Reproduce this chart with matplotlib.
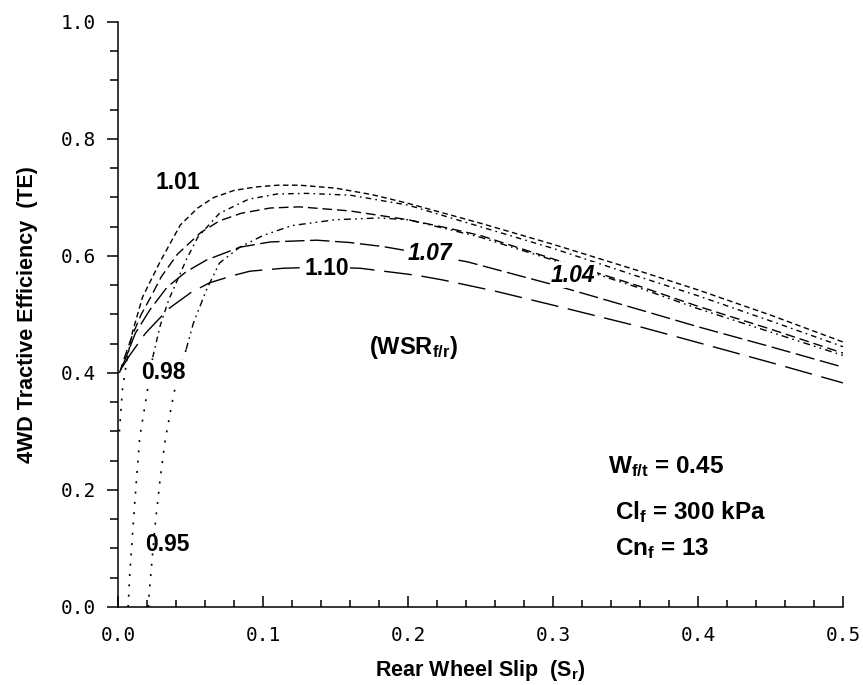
import numpy as np
import matplotlib
matplotlib.use('Agg')
import matplotlib.pyplot as plt
from matplotlib.ticker import MultipleLocator, FormatStrFormatter

plt.rcParams['mathtext.fontset'] = 'custom'
plt.rcParams['mathtext.rm'] = 'Liberation Sans'
plt.rcParams['mathtext.bf'] = 'Liberation Sans:bold'

# Кривые КПД по проскальзыванию задних колёс для разных WSR
slip_095 = [0.021, 0.0216, 0.0255, 0.029, 0.0324, 0.037, 0.0405, 0.047, 0.052, 0.061, 0.070, 0.084,
            0.10, 0.12, 0.15, 0.18, 0.20, 0.227, 0.25, 0.30, 0.36, 0.40, 0.45, 0.50]
te_095 = [0.0, 0.026, 0.137, 0.217, 0.283, 0.345, 0.388, 0.44, 0.485, 0.542, 0.588, 0.615,
          0.635, 0.652, 0.662, 0.665, 0.662, 0.646, 0.632, 0.593, 0.545, 0.51, 0.47, 0.43]

slip_098 = [0.007, 0.0083, 0.0117, 0.015, 0.0198, 0.024, 0.029, 0.035, 0.047, 0.055, 0.07, 0.09,
            0.11, 0.13, 0.16, 0.20, 0.25, 0.30, 0.36, 0.40, 0.45, 0.50]
te_098 = [0.0, 0.063, 0.183, 0.29, 0.362, 0.427, 0.48, 0.525, 0.593, 0.632, 0.673, 0.697,
          0.706, 0.707, 0.704, 0.687, 0.650, 0.613, 0.564, 0.532, 0.489, 0.445]

slip_101 = [0.001, 0.003, 0.006, 0.010, 0.017, 0.029, 0.043, 0.055, 0.066, 0.08, 0.095, 0.11,
            0.125, 0.15, 0.175, 0.20, 0.25, 0.30, 0.36, 0.40, 0.45, 0.50]
te_101 = [0.30, 0.37, 0.42, 0.47, 0.53, 0.59, 0.653, 0.682, 0.70, 0.712, 0.718, 0.721,
          0.721, 0.716, 0.705, 0.69, 0.656, 0.62, 0.574, 0.542, 0.499, 0.453]

slip_104 = [0.001, 0.005, 0.010, 0.016, 0.022, 0.030, 0.041, 0.057, 0.070, 0.085, 0.105, 0.125,
            0.16, 0.20, 0.227, 0.25, 0.30, 0.36, 0.40, 0.45, 0.50]
te_104 = [0.40, 0.43, 0.465, 0.50, 0.527, 0.565, 0.603, 0.64, 0.66, 0.673, 0.682, 0.684,
          0.677, 0.662, 0.648, 0.635, 0.595, 0.548, 0.514, 0.475, 0.434]

slip_107 = [0.002, 0.006, 0.012, 0.022, 0.034, 0.047, 0.061, 0.084, 0.105, 0.137, 0.16, 0.183,
            0.197, 0.241, 0.30, 0.36, 0.40, 0.45, 0.50]
te_107 = [0.405, 0.43, 0.468, 0.508, 0.547, 0.573, 0.593, 0.615, 0.624, 0.627, 0.623, 0.616,
          0.61, 0.59, 0.551, 0.508, 0.479, 0.445, 0.41]

slip_110 = [0.003, 0.008, 0.019, 0.035, 0.05, 0.063, 0.08, 0.091, 0.114, 0.14, 0.167, 0.206,
            0.224, 0.26, 0.30, 0.36, 0.40, 0.45, 0.50]
te_110 = [0.41, 0.43, 0.468, 0.51, 0.537, 0.554, 0.567, 0.574, 0.579, 0.581, 0.579, 0.567,
          0.559, 0.54, 0.516, 0.479, 0.452, 0.418, 0.383]

fig = plt.figure(figsize=(8.63, 6.85), dpi=100)
ax = fig.add_axes([0.1367, 0.1139, 0.8401, 0.854])

lw = 1.0
dots = (0, (1.2, 5))

# нижние крутые участки - точками
def split_plot(x, y, dash):
    x = np.array(x)
    y = np.array(y)
    k = np.argmax(y >= 0.4)
    ax.plot(x[:k + 1], y[:k + 1], color='k', lw=1.2, linestyle=dots)
    ax.plot(x[k:], y[k:], color='k', lw=lw, linestyle=dash)

split_plot(slip_095, te_095, (0, (5, 3, 1.2, 3, 1.2, 3)))
split_plot(slip_098, te_098, (0, (4, 3, 1.2, 3)))
split_plot(slip_101, te_101, (0, (4, 2.5)))
ax.plot(slip_104, te_104, color='k', lw=lw, linestyle=(0, (7, 3.5)))
ax.plot(slip_107, te_107, color='k', lw=lw, linestyle=(0, (14, 4)))
ax.plot(slip_110, te_110, color='k', lw=lw, linestyle=(0, (20, 7)))

ax.set_xlim(0, 0.5)
ax.set_ylim(0, 1.0)

for s in ['top', 'right']:
    ax.spines[s].set_visible(False)
for s in ['left', 'bottom']:
    ax.spines[s].set_linewidth(1.1)

ax.xaxis.set_major_locator(MultipleLocator(0.1))
ax.xaxis.set_minor_locator(MultipleLocator(0.02))
ax.yaxis.set_major_locator(MultipleLocator(0.2))
ax.yaxis.set_minor_locator(MultipleLocator(0.05))
ax.xaxis.set_major_formatter(FormatStrFormatter('%.1f'))
ax.yaxis.set_major_formatter(FormatStrFormatter('%.1f'))

ax.tick_params(axis='x', which='major', direction='in', length=8, width=1.1, pad=14)
ax.tick_params(axis='x', which='minor', direction='in', length=5, width=1.1)
ax.tick_params(axis='y', which='major', direction='out', length=8, width=1.1, pad=8)
ax.tick_params(axis='y', which='minor', direction='out', length=6, width=1.1)
for lab in ax.get_xticklabels() + ax.get_yticklabels():
    lab.set_fontfamily('DejaVu Sans Mono')
    lab.set_fontsize(14)

ax.set_xlabel(r'Rear Wheel Slip  ($\mathbf{S_r}$)', fontfamily='Liberation Sans',
              fontweight='bold', fontsize=15.5, labelpad=9)
ax.set_ylabel('4WD Tractive Efficiency  (TE)', fontfamily='Liberation Sans',
              fontweight='bold', fontsize=15.5, labelpad=16)

bb = dict(facecolor='white', edgecolor='none', pad=1.0)
tk = dict(fontfamily='Liberation Sans', fontweight='bold', fontsize=16.5,
          ha='center', va='center')
ax.text(0.041, 0.725, '1.01', **tk)
ax.text(0.031, 0.40, '0.98', bbox=bb, **tk)
ax.text(0.034, 0.106, '0.95', **tk)
ax.text(0.144, 0.579, '1.10', bbox=bb, **tk)
ax.text(0.215, 0.605, '1.07', style='italic', bbox=bb, **tk)
ax.text(0.314, 0.567, '1.04', style='italic', bbox=bb, **tk)
ax.text(0.204, 0.444, r'$\mathbf{(WSR_{f/r})}$', fontsize=17, ha='center', va='center')

pk = dict(fontfamily='Liberation Sans', fontweight='bold', fontsize=17.5, ha='left', va='center')
ax.text(0.338, 0.24, r'$\mathbf{W_{f/t}}$ = 0.45', **pk)
ax.text(0.343, 0.163, r'$\mathbf{Cl_f}$ = 300 kPa', **pk)
ax.text(0.343, 0.10, r'$\mathbf{Cn_f}$ = 13', **pk)

fig.savefig('out.png', dpi=100)
